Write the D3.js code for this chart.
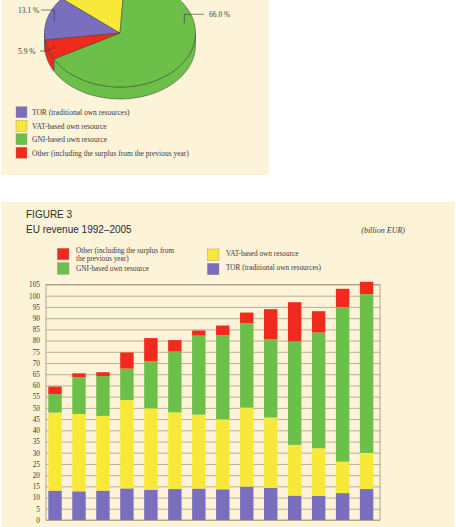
<html>
<head>
<script src="https://cdn.jsdelivr.net/npm/d3@7"></script>
<style>
  body { margin: 0; background: #fff; }
  svg { display: block; }
  text { font-family: "Liberation Serif", "DejaVu Serif", serif; fill: #3a3a3a; }
  .title { font-family: "Liberation Sans", Arial, sans-serif; fill: #2b2b2b; }
</style>
</head>
<body>
<svg id="chart" width="456" height="527"></svg>
<script>
// ---- data ----
var sources = ["TOR (traditional own resources)", "VAT-based own resource", "GNI-based own resource", "Other (including the surplus from the previous year)"];
var colors = ["#7a6fbf", "#f8e83a", "#6cc04a", "#f02b1d"];
var pieShare = [13.1, 15.0, 66.0, 5.9];
var pieLabels = ["13.1 %", "", "66.0 %", "5.9 %"];

var years = ["1992","1993","1994","1995","1996","1997","1998","1999","2000","2001","2002","2003","2004","2005"];
var tor   = [13.1, 12.8, 13.1, 14.1, 13.4, 13.8, 14.0, 13.7, 14.9, 14.3, 10.9, 10.7, 12.0, 13.8];
var vat   = [34.8, 34.5, 33.3, 39.4, 36.4, 34.2, 33.0, 31.2, 35.2, 31.4, 22.6, 21.3, 14.0, 16.1];
var gni   = [ 8.2, 16.4, 17.8, 14.0, 21.1, 27.1, 35.2, 37.5, 37.6, 34.9, 46.1, 51.6, 69.0, 70.8];
var other = [ 3.4,  1.7,  1.7,  7.2, 10.2,  5.1,  2.3,  4.3,  4.8, 13.4, 17.5,  9.5,  8.1,  5.5];
var yTicks = d3.range(0, 106, 5);

var svg = d3.select("#chart");

// panel backgrounds
svg.append("rect").attr("x", 1).attr("y", 0).attr("width", 268).attr("height", 175).attr("fill", "#fdf3d9");
svg.append("rect").attr("x", 1).attr("y", 202).attr("width", 454).attr("height", 325).attr("fill", "#fdf3d9");

// ---- 3D pie (figure 2, cut at top) ----
var cx = 120, cy = 33, rx = 75.5, ry = 54, depth = 12;
var pie = d3.pie().sort(null).value(d => d)
    .startAngle(262.5 * Math.PI / 180).endAngle(262.5 * Math.PI / 180 + 2 * Math.PI);
var arcs = pie(pieShare);

function pt(a, dy) { return [cx + rx * Math.sin(a), cy - ry * Math.cos(a) + (dy || 0)]; }
function edge(a0, a1, dy) {
    var n = Math.max(2, Math.ceil(Math.abs(a1 - a0) / 0.03));
    return d3.range(n + 1).map(i => pt(a0 + (a1 - a0) * i / n, dy));
}

var gPie = svg.append("g");
// sides (front half only)
arcs.forEach(function (d, i) {
    for (var k = 0; k < 2; k++) {
        var lo = Math.max(d.startAngle, Math.PI / 2 + 2 * Math.PI * k);
        var hi = Math.min(d.endAngle, 3 * Math.PI / 2 + 2 * Math.PI * k);
        if (lo < hi) {
            var p = edge(lo, hi, 0).concat(edge(hi, lo, depth));
            gPie.append("path")
                .attr("d", d3.line()(p) + "Z")
                .attr("fill", colors[i])
                .attr("stroke", "#3a3a30").attr("stroke-width", 0.5);
        }
    }
});
// top faces
arcs.forEach(function (d, i) {
    var p = [[cx, cy]].concat(edge(d.startAngle, d.endAngle, 0));
    gPie.append("path")
        .attr("d", d3.line()(p) + "Z")
        .attr("fill", colors[i])
        .attr("stroke", "#3a3a30").attr("stroke-width", 0.5);
});

// pie labels with leaders
var lab = svg.append("g").attr("font-size", 7.5);
lab.append("text").attr("x", 18).attr("y", 13).text(pieLabels[0]);
lab.append("path").attr("d", "M41,10H54.3V21.7").attr("fill", "none").attr("stroke", "#333").attr("stroke-width", 0.6);
lab.append("text").attr("x", 209).attr("y", 17).text(pieLabels[2]);
lab.append("path").attr("d", "M204,14.3H184.3V23.3").attr("fill", "none").attr("stroke", "#333").attr("stroke-width", 0.6);
lab.append("text").attr("x", 18).attr("y", 53.5).text(pieLabels[3]);
lab.append("path").attr("d", "M40,51H46.7L55,46.7").attr("fill", "none").attr("stroke", "#333").attr("stroke-width", 0.6);

// pie legend
var leg1 = svg.append("g");
sources.forEach(function (s, i) {
    leg1.append("rect").attr("x", 16).attr("y", 106.7 + i * 13.5).attr("width", 11).attr("height", 11)
        .attr("fill", colors[i]).attr("stroke", "#9a8f7c").attr("stroke-width", 0.4);
    leg1.append("text").attr("x", 32).attr("y", 115 + i * 13.5).attr("font-size", 7.5).text(s);
});

// ---- figure 3: stacked bars ----
svg.append("text").attr("class", "title").attr("x", 26).attr("y", 218.3).attr("font-size", 10).text("FIGURE 3");
svg.append("text").attr("class", "title").attr("x", 26).attr("y", 233).attr("font-size", 10).text("EU revenue 1992–2005");
svg.append("text").attr("x", 405).attr("y", 232.7).attr("font-size", 8).attr("font-style", "italic")
    .attr("text-anchor", "end").text("(billion EUR)");

// bar legend
var leg2 = svg.append("g").attr("font-size", 7.3);
var legItems = [
    { c: 3, x: 57.3, y: 248.3, lines: ["Other (including the surplus from", "the previous year)"], ty: 252.6 },
    { c: 2, x: 57.3, y: 262.7, lines: ["GNI-based own resource"], ty: 270.5 },
    { c: 1, x: 207.3, y: 249, lines: ["VAT-based own resource"], ty: 255.7 },
    { c: 0, x: 207.3, y: 263.3, lines: ["TOR (traditional own resources)"], ty: 270.3 }
];
legItems.forEach(function (it) {
    leg2.append("rect").attr("x", it.x).attr("y", it.y).attr("width", 11.7).attr("height", 11.5)
        .attr("fill", colors[it.c]).attr("stroke", "#9a8f7c").attr("stroke-width", 0.4);
    it.lines.forEach(function (l, j) {
        leg2.append("text").attr("x", it.x + 18.7).attr("y", it.ty + j * 8).text(l);
    });
});

var plotL = 46, plotR = 380, plotT = 284.5, plotB = 520;
var x = d3.scaleBand().domain(years).range([48.3, 373.3]).paddingInner(0.44).paddingOuter(0);
var y = d3.scaleLinear().domain([0, 105]).range([plotB, plotT]);

// gridlines + labels
var gridG = svg.append("g").attr("transform", "translate(" + plotL + ",0)")
    .call(d3.axisLeft(y).tickValues(yTicks).tickSize(-(plotR - plotL)).tickFormat(d3.format("d")).tickPadding(6));
gridG.select(".domain").remove();
gridG.selectAll(".tick line").attr("stroke", "#a89c86").attr("stroke-width", 0.8);
gridG.selectAll(".tick text").attr("font-family", "Liberation Serif, serif").attr("font-size", 7.3).attr("fill", "#3a3a3a");

// frame
svg.append("rect").attr("x", plotL).attr("y", plotT).attr("width", plotR - plotL).attr("height", plotB - plotT)
    .attr("fill", "none").attr("stroke", "#a89c86").attr("stroke-width", 0.9);

// stacked bars
var table = years.map((yr, i) => ({ year: yr, tor: tor[i], vat: vat[i], gni: gni[i], other: other[i] }));
var keys = ["tor", "vat", "gni", "other"];
var stack = d3.stack().keys(keys)(table);

svg.append("g").selectAll("g").data(stack).enter().append("g")
    .attr("fill", (d, i) => colors[i])
    .selectAll("rect").data(d => d).enter().append("rect")
    .attr("x", d => x(d.data.year))
    .attr("width", x.bandwidth())
    .attr("y", d => y(d[1]))
    .attr("height", d => y(d[0]) - y(d[1]));
</script>
</body>
</html>
